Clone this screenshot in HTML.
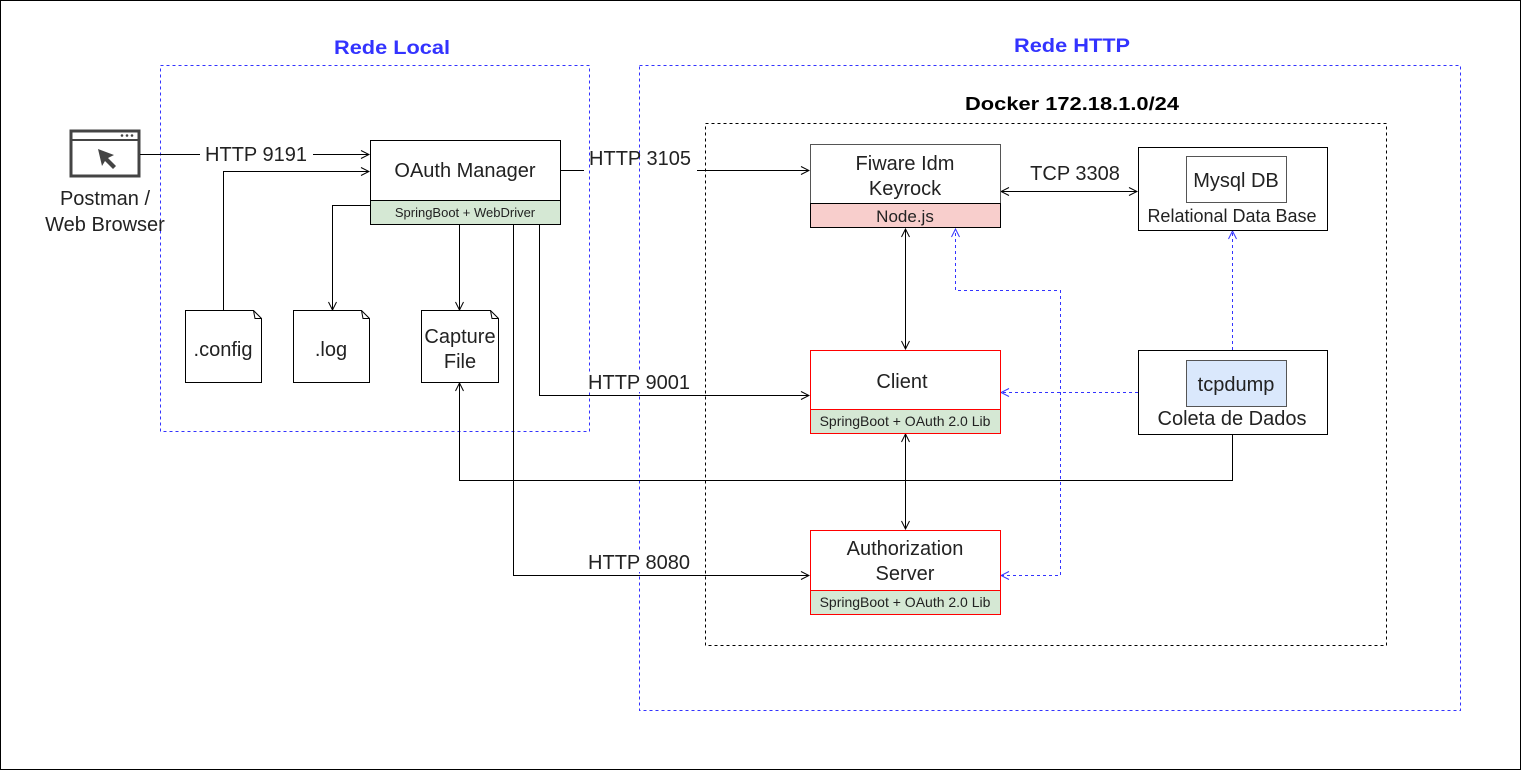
<!DOCTYPE html>
<html><head><meta charset="utf-8"><style>
html,body{margin:0;padding:0;background:#fff;}
svg{display:block;font-family:"Liberation Sans",Arial,sans-serif;}
</style></head><body>
<svg width="1522" height="771" viewBox="0 0 1522 771" xmlns="http://www.w3.org/2000/svg">
<defs>
<marker id="a" markerWidth="10" markerHeight="10" refX="9" refY="5" orient="auto" markerUnits="userSpaceOnUse"><path d="M1,1 L9,5 L1,9" fill="none" stroke="#000" stroke-width="1"/></marker>
<marker id="as" markerWidth="10" markerHeight="10" refX="1" refY="5" orient="auto" markerUnits="userSpaceOnUse"><path d="M9,1 L1,5 L9,9" fill="none" stroke="#000" stroke-width="1"/></marker>
<marker id="b" markerWidth="10" markerHeight="10" refX="9" refY="5" orient="auto" markerUnits="userSpaceOnUse"><path d="M1,1 L9,5 L1,9" fill="none" stroke="#3333ff" stroke-width="1"/></marker>
<marker id="bs" markerWidth="10" markerHeight="10" refX="1" refY="5" orient="auto" markerUnits="userSpaceOnUse"><path d="M9,1 L1,5 L9,9" fill="none" stroke="#3333ff" stroke-width="1"/></marker>
</defs>
<rect x="0.5" y="0.5" width="1520" height="769" fill="#fff" stroke="#000"/>
<!-- network boxes -->
<rect x="160.5" y="65.5" width="429" height="366" fill="none" stroke="#3333ff" stroke-dasharray="3,3"/>
<text x="334" y="54" textLength="116" lengthAdjust="spacingAndGlyphs" font-size="19" font-weight="bold" fill="#3333ff">Rede Local</text>
<rect x="639.5" y="65.5" width="821" height="645" fill="none" stroke="#3333ff" stroke-dasharray="3,3"/>
<text x="1014" y="52" textLength="116" lengthAdjust="spacingAndGlyphs" font-size="19" font-weight="bold" fill="#3333ff">Rede HTTP</text>
<rect x="705.5" y="123.5" width="681" height="522" fill="none" stroke="#000" stroke-dasharray="3,3"/>
<text x="965" y="110" textLength="214" lengthAdjust="spacingAndGlyphs" font-size="18" font-weight="bold">Docker 172.18.1.0/24</text>
<!-- browser icon -->
<rect x="71" y="131" width="68" height="45" fill="#fff" stroke="#444" stroke-width="3"/>
<line x1="71" y1="140" x2="139" y2="140" stroke="#444" stroke-width="2"/>
<circle cx="122" cy="135.5" r="1.3" fill="#444"/><circle cx="127" cy="135.5" r="1.3" fill="#444"/><circle cx="132" cy="135.5" r="1.3" fill="#444"/>
<path d="M98,149 L114,155 L108,158 L116,166 L113,169 L105,161 L102,166 Z" fill="#444"/>
<text x="105" y="205" text-anchor="middle" font-size="20" fill="#222">Postman /</text>
<text x="105" y="231" text-anchor="middle" font-size="20" fill="#222">Web Browser</text>
<!-- OAuth manager -->
<rect x="370.5" y="140.5" width="190" height="60" fill="#fff" stroke="#000"/>
<rect x="370.5" y="200.5" width="190" height="24" fill="#d5e8d4" stroke="#000"/>
<text x="465" y="177" text-anchor="middle" font-size="20" fill="#222">OAuth Manager</text>
<text x="465" y="217" text-anchor="middle" font-size="13" fill="#222">SpringBoot + WebDriver</text>
<!-- files -->
<g fill="#fff" stroke="#000">
<path d="M185.5,310.5 H253.5 L261.5,318.5 V382.5 H185.5 Z"/><path d="M253.5,310.5 L255,318.5 H261.5" fill="none"/>
<path d="M293.5,310.5 H361.5 L369.5,318.5 V382.5 H293.5 Z"/><path d="M361.5,310.5 L363,318.5 H369.5" fill="none"/>
<path d="M421.5,310.5 H490.5 L498.5,318.5 V382.5 H421.5 Z"/><path d="M490.5,310.5 L492,318.5 H498.5" fill="none"/>
</g>
<text x="223" y="356" text-anchor="middle" font-size="20" fill="#222">.config</text>
<text x="331" y="356" text-anchor="middle" font-size="20" fill="#222">.log</text>
<text x="460" y="343" text-anchor="middle" font-size="20" fill="#222">Capture</text>
<text x="460" y="368" text-anchor="middle" font-size="20" fill="#222">File</text>
<!-- edges -->
<g fill="none" stroke="#000">
<path d="M140,154.5 H200 M313,154.5 H369" marker-end="url(#a)"/>
<path d="M223.5,310 V171.5 H369" marker-end="url(#a)"/>
<path d="M370,205.5 H332.5 V310" marker-end="url(#a)"/>
<path d="M459.5,224 V310" marker-end="url(#a)"/>
<path d="M560,170.5 H584 M697,170.5 H809" marker-end="url(#a)"/>
<path d="M539.5,224 V395.5 H809" marker-end="url(#a)"/>
<path d="M513.5,224 V575.5 H809" marker-end="url(#a)"/>
<path d="M1232.5,434 V480.5 H459.5 V383" marker-end="url(#a)"/>
<path d="M1001,191.5 H1137" marker-start="url(#as)" marker-end="url(#a)"/>
<path d="M905.5,229 V349" marker-start="url(#as)" marker-end="url(#a)"/>
<path d="M905.5,434 V529" marker-start="url(#as)" marker-end="url(#a)"/>
</g>
<text x="256" y="161" text-anchor="middle" font-size="20" fill="#222">HTTP 9191</text>
<text x="640" y="165" text-anchor="middle" font-size="20" fill="#222">HTTP 3105</text>
<rect x="583" y="372" width="112" height="20" fill="#fff"/>
<text x="639" y="389" text-anchor="middle" font-size="20" fill="#222">HTTP 9001</text>
<rect x="583" y="552" width="112" height="20" fill="#fff"/>
<text x="639" y="569" text-anchor="middle" font-size="20" fill="#222">HTTP 8080</text>
<text x="1075" y="180" text-anchor="middle" font-size="20" fill="#222">TCP 3308</text>
<!-- blue dashed -->
<g fill="none" stroke="#3333ff" stroke-dasharray="3,3">
<path d="M1138,392.5 H1001" marker-end="url(#b)"/>
<path d="M1232.5,350 V231" marker-end="url(#b)"/>
<path d="M1001,575.5 H1060.5 V290.5 H955.5 V229" marker-start="url(#bs)" marker-end="url(#b)"/>
</g>
<!-- Fiware -->
<rect x="810.5" y="144.5" width="190" height="59" fill="#fff" stroke="#555"/>
<rect x="810.5" y="203.5" width="190" height="24" fill="#f8cecc" stroke="#000"/>
<text x="905" y="170" text-anchor="middle" font-size="20" fill="#222">Fiware Idm</text>
<text x="905" y="195" text-anchor="middle" font-size="20" fill="#222">Keyrock</text>
<text x="905" y="222" text-anchor="middle" font-size="17" fill="#222">Node.js</text>
<!-- Mysql -->
<rect x="1138.5" y="147.5" width="189" height="83" fill="#fff" stroke="#000"/>
<rect x="1186.5" y="156.5" width="100" height="46" fill="#fff" stroke="#555"/>
<text x="1236" y="187" text-anchor="middle" font-size="20" fill="#222">Mysql DB</text>
<text x="1232" y="222" text-anchor="middle" font-size="18" fill="#222">Relational Data Base</text>
<!-- Client -->
<rect x="810.5" y="350.5" width="190" height="59" fill="#fff" stroke="#ff0000"/>
<rect x="810.5" y="409.5" width="190" height="24" fill="#d5e8d4" stroke="#ff0000"/>
<text x="902" y="388" text-anchor="middle" font-size="20" fill="#222">Client</text>
<text x="905" y="426" text-anchor="middle" font-size="14" fill="#222">SpringBoot + OAuth 2.0 Lib</text>
<!-- Coleta -->
<rect x="1138.5" y="350.5" width="189" height="84" fill="#fff" stroke="#000"/>
<rect x="1186.5" y="360.5" width="100" height="46" fill="#dae8fc" stroke="#555"/>
<text x="1236" y="391" text-anchor="middle" font-size="20" fill="#222">tcpdump</text>
<text x="1232" y="425" text-anchor="middle" font-size="20" fill="#222">Coleta de Dados</text>
<!-- Auth server -->
<rect x="810.5" y="530.5" width="190" height="60" fill="#fff" stroke="#ff0000"/>
<rect x="810.5" y="590.5" width="190" height="24" fill="#d5e8d4" stroke="#ff0000"/>
<text x="905" y="555" text-anchor="middle" font-size="20" fill="#222">Authorization</text>
<text x="905" y="580" text-anchor="middle" font-size="20" fill="#222">Server</text>
<text x="905" y="607" text-anchor="middle" font-size="14" fill="#222">SpringBoot + OAuth 2.0 Lib</text>
</svg>
</body></html>
